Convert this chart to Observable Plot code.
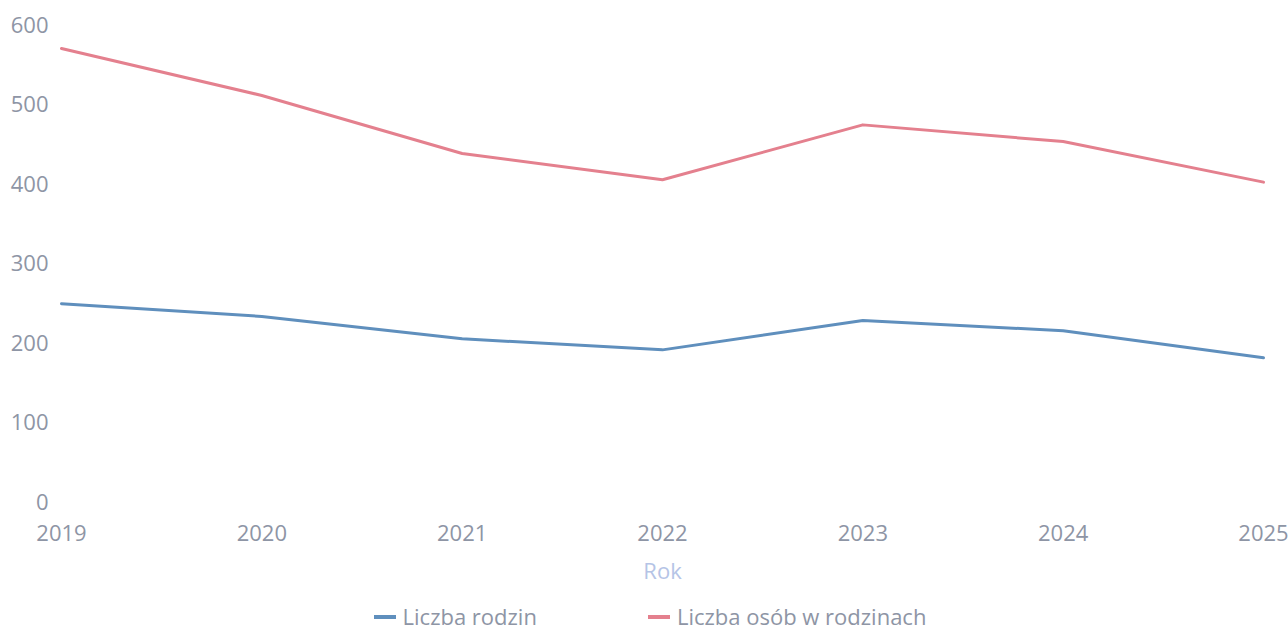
<!DOCTYPE html>
<html>
<head>
<meta charset="utf-8">
<script src="https://cdn.jsdelivr.net/npm/d3@7"></script>
<script src="https://cdn.jsdelivr.net/npm/@observablehq/plot@0.6"></script>
<style>
  html, body { margin: 0; padding: 0; background: #fff; }
  body { width: 1288px; height: 630px; overflow: hidden; font-family: "Open Sans", "Noto Sans", sans-serif; }
  #chart svg { display: block; }
  #legend { display: flex; justify-content: center; gap: 111px; height: 25px; line-height: 25px; font-size: 22px; color: #8e95a5; margin-left: 12px; }
  #legend .item { display: flex; align-items: center; }
  #legend .sw { display: inline-block; width: 22px; height: 4px; margin-right: 7px; }
</style>
</head>
<body>
<div id="chart"></div>
<div id="legend"></div>
<script>
const years = [2019, 2020, 2021, 2022, 2023, 2024, 2025];
const rodziny = [250, 234, 206, 192, 229, 216, 182];
const osoby = [571, 512, 439, 406, 475, 454, 403];
const seriesNames = ["Liczba rodzin", "Liczba osób w rodzinach"];
const seriesColors = ["#5f8fbd", "#e4808e"];
const yTicks = [0, 100, 200, 300, 400, 500, 600];

const data = [
  ...years.map((y, i) => ({ rok: y, value: rodziny[i], series: seriesNames[0] })),
  ...years.map((y, i) => ({ rok: y, value: osoby[i], series: seriesNames[1] }))
];

const plot = Plot.plot({
  width: 1288,
  height: 604,
  marginLeft: 61,
  marginRight: 25,
  marginTop: 25,
  marginBottom: 102,
  style: { fontFamily: "'Open Sans', 'Noto Sans', sans-serif", fontSize: "22px", color: "#8e95a5", background: "#fff", overflow: "visible" },
  x: { type: "linear", domain: [years[0], years[years.length - 1]], ticks: years, tickFormat: "d", tickSize: 0, tickPadding: 23, label: null },
  y: { domain: [0, 600], ticks: yTicks, tickSize: 0, tickPadding: 13, label: null },
  color: { domain: seriesNames, range: seriesColors },
  marks: [
    Plot.line(data, { x: "rok", y: "value", z: "series", stroke: "series", strokeWidth: 3 }),
    Plot.text(["Rok"], { frameAnchor: "bottom", dy: 76, fill: "#b5c4e6", fontSize: 22 })
  ]
});
document.getElementById("chart").appendChild(plot);

const legend = document.getElementById("legend");
seriesNames.forEach((n, i) => {
  const it = document.createElement("div");
  it.className = "item";
  const sw = document.createElement("span");
  sw.className = "sw";
  sw.style.background = seriesColors[i];
  const t = document.createElement("span");
  t.textContent = n;
  it.appendChild(sw); it.appendChild(t);
  legend.appendChild(it);
});
</script>
</body>
</html>
